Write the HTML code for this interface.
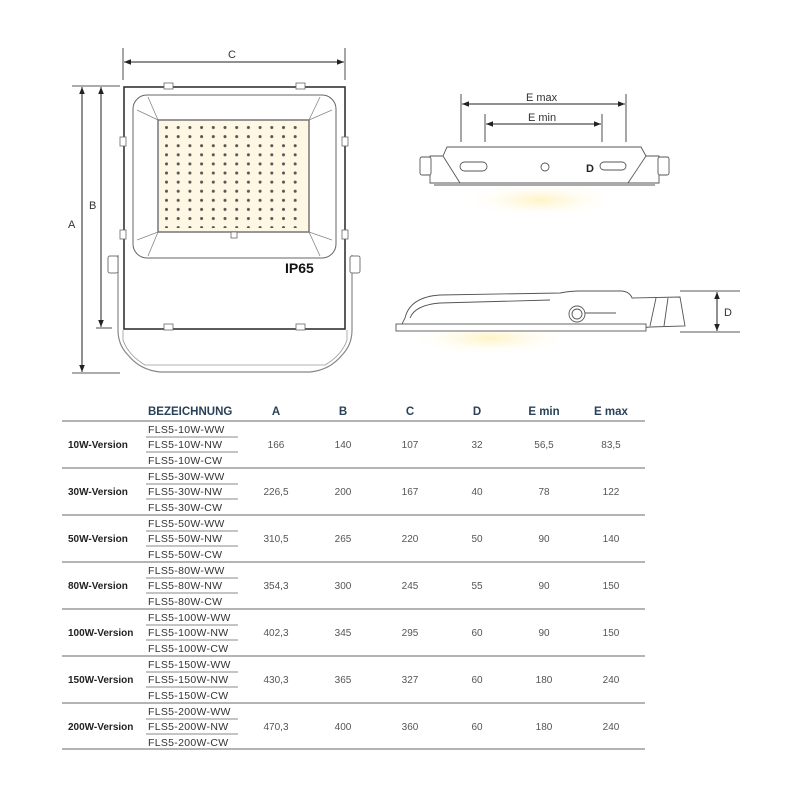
<!DOCTYPE html>
<html><head><meta charset="utf-8"><style>
html,body{margin:0;padding:0;background:#fff;}
svg{display:block;font-family:"Liberation Sans",sans-serif;}
.h{font-weight:bold;font-size:11.5px;fill:#2a4157;}
.l{font-weight:bold;font-size:10px;fill:#222;}
.n{font-size:10.5px;fill:#333;letter-spacing:0.3px}
.v{font-size:10px;fill:#555;text-anchor:middle;}
.dim{font-size:11px;fill:#333;}
</style></head><body>
<svg width="800" height="800" viewBox="0 0 800 800">
<defs>
<pattern id="leds" x="165" y="126" width="11.7" height="9.1" patternUnits="userSpaceOnUse">
<circle cx="1.5" cy="1.5" r="1.5" fill="#555"/></pattern>
<radialGradient id="glow" cx="0.5" cy="0.5" r="0.5">
<stop offset="0" stop-color="#fff3c4"/><stop offset="1" stop-color="#fff" stop-opacity="0"/></radialGradient>
<marker id="ar" viewBox="0 0 10 10" refX="10" refY="5" markerWidth="7" markerHeight="7" orient="auto-start-reverse"><path d="M0,1 L10,5 L0,9 z" fill="#222"/></marker>
</defs>

<!-- FRONT VIEW -->
<g stroke="#222" fill="none">
<line x1="123" y1="48" x2="123" y2="80" stroke-width="0.8"/>
<line x1="345" y1="48" x2="345" y2="80" stroke-width="0.8"/>
<line x1="124" y1="62" x2="344" y2="62" stroke-width="1" marker-start="url(#ar)" marker-end="url(#ar)"/>
<line x1="72" y1="86" x2="120" y2="86" stroke-width="0.8"/>
<line x1="72" y1="373" x2="120" y2="373" stroke-width="0.8"/>
<line x1="96" y1="328" x2="112" y2="328" stroke-width="0.8"/>
<line x1="82" y1="87" x2="82" y2="372" stroke-width="1" marker-start="url(#ar)" marker-end="url(#ar)"/>
<line x1="101" y1="87" x2="101" y2="327" stroke-width="1" marker-start="url(#ar)" marker-end="url(#ar)"/>
</g>
<text x="228" y="58" class="dim">C</text>
<text x="68" y="228" class="dim">A</text>
<text x="89" y="209" class="dim">B</text>
<!-- bracket -->
<path d="M118,255 L118,330 Q118,345 128,355 Q140,370 160,372 L310,372 Q330,370 342,355 Q352,345 352,330 L352,255" fill="none" stroke="#888" stroke-width="1.2"/>
<path d="M123,330 L123,340 Q128,355 145,365 L325,365 Q342,355 347,340 L347,330" fill="none" stroke="#999" stroke-width="0.8"/>
<rect x="108" y="256" width="10" height="17" rx="2" fill="#fff" stroke="#777"/>
<rect x="350" y="256" width="10" height="17" rx="2" fill="#fff" stroke="#777"/>
<rect x="124" y="87" width="221" height="242" fill="#fff" stroke="#333" stroke-width="1.6"/>
<rect x="133" y="95" width="203" height="163" rx="14" fill="#fff" stroke="#666" stroke-width="1"/>
<g stroke="#888" stroke-width="0.8"><line x1="137" y1="110" x2="158" y2="120"/><line x1="332" y1="110" x2="309" y2="120"/><line x1="137" y1="240" x2="158" y2="232"/><line x1="332" y1="240" x2="309" y2="232"/><line x1="148" y1="97" x2="158" y2="120"/><line x1="320" y1="97" x2="309" y2="120"/><line x1="148" y1="256" x2="158" y2="232"/><line x1="320" y1="256" x2="309" y2="232"/></g>
<rect x="158" y="120" width="151" height="112" fill="#fdf7e3" stroke="#777" stroke-width="1.5"/>
<rect x="165" y="126" width="140" height="102" fill="url(#leds)"/>
<g fill="#fff" stroke="#666" stroke-width="0.8">
<rect x="164" y="83" width="9" height="6"/><rect x="296" y="83" width="9" height="6"/>
<rect x="164" y="324" width="9" height="6"/><rect x="296" y="324" width="9" height="6"/>
<rect x="120" y="137" width="6" height="9"/><rect x="342" y="137" width="6" height="9"/>
<rect x="120" y="230" width="6" height="9"/><rect x="342" y="230" width="6" height="9"/>
<rect x="231" y="232" width="6" height="6"/>
</g>
<text x="285" y="273" font-weight="bold" font-size="14" fill="#111">IP65</text>

<!-- SIDE VIEW TOP -->
<ellipse cx="540" cy="200" rx="80" ry="18" fill="url(#glow)"/>
<g stroke="#222" fill="none">
<line x1="461" y1="94" x2="461" y2="142" stroke-width="0.8"/>
<line x1="626" y1="94" x2="626" y2="142" stroke-width="0.8"/>
<line x1="485" y1="114" x2="485" y2="142" stroke-width="0.8"/>
<line x1="602" y1="114" x2="602" y2="142" stroke-width="0.8"/>
<line x1="462" y1="104" x2="625" y2="104" marker-start="url(#ar)" marker-end="url(#ar)"/>
<line x1="486" y1="124" x2="601" y2="124" marker-start="url(#ar)" marker-end="url(#ar)"/>
</g>
<text x="526" y="101" class="dim">E max</text>
<text x="528" y="121" class="dim">E min</text>
<g fill="#fff" stroke="#555" stroke-width="0.9">
<path d="M447,147 L641,147 L646,156 L659,156 L659,183 L430,183 L430,156 L443,156 Z"/>
<rect x="420" y="157" width="11" height="18" rx="2"/>
<rect x="658" y="157" width="11" height="18" rx="2"/>
<line x1="434" y1="185" x2="655" y2="185"/>
<rect x="460" y="162" width="27" height="9" rx="4.5"/>
<circle cx="545" cy="167" r="4"/>
<rect x="600" y="162" width="26" height="8" rx="4"/>
<line x1="443" y1="156" x2="460" y2="183"/><line x1="646" y1="156" x2="628" y2="183"/>
</g>
<text x="586" y="172" font-size="11" font-weight="bold" fill="#222">D</text>

<!-- PROFILE VIEW -->
<ellipse cx="490" cy="338" rx="85" ry="18" fill="url(#glow)"/>
<g fill="#fff" stroke="#555" stroke-width="0.9">
<path d="M405,318 Q410,297 440,295 L560,293 Q570,291 580,291 L622,291 Q630,292 632,298 L680,297 L685,326 L650,327 L640,328 L400,328 Z"/>
<path d="M410,318 Q415,305 440,303 L550,300"/>
<rect x="396" y="324" width="250" height="7"/>
<circle cx="577" cy="314" r="8"/><circle cx="577" cy="314" r="5"/>
<line x1="585" y1="313" x2="616" y2="313"/>
<line x1="656" y1="298" x2="650" y2="326"/><line x1="668" y1="298" x2="664" y2="326"/>
</g>
<g stroke="#222" fill="none">
<line x1="680" y1="291" x2="740" y2="291" stroke-width="0.8"/>
<line x1="680" y1="332" x2="740" y2="332" stroke-width="0.8"/>
<line x1="717" y1="292" x2="717" y2="331" marker-start="url(#ar)" marker-end="url(#ar)"/>
</g>
<text x="724" y="316" class="dim">D</text>

<!-- TABLE -->
<text x="148" y="415" class="h">BEZEICHNUNG</text>
<text x="276" y="415" class="h" text-anchor="middle">A</text>
<text x="343" y="415" class="h" text-anchor="middle">B</text>
<text x="410" y="415" class="h" text-anchor="middle">C</text>
<text x="477" y="415" class="h" text-anchor="middle">D</text>
<text x="544" y="415" class="h" text-anchor="middle">E min</text>
<text x="611" y="415" class="h" text-anchor="middle">E max</text>
<g stroke="#888" stroke-width="1.2">
<line x1="62" y1="421" x2="645" y2="421"/><line x1="62" y1="468" x2="645" y2="468"/>
<line x1="62" y1="515" x2="645" y2="515"/><line x1="62" y1="562" x2="645" y2="562"/>
<line x1="62" y1="609" x2="645" y2="609"/><line x1="62" y1="656" x2="645" y2="656"/>
<line x1="62" y1="703" x2="645" y2="703"/><line x1="62" y1="749" x2="645" y2="749"/>
</g>
<g stroke="#888" stroke-width="1">
<line x1="146" y1="437" x2="238" y2="437"/><line x1="146" y1="452" x2="238" y2="452"/>
<line x1="146" y1="484" x2="238" y2="484"/><line x1="146" y1="499" x2="238" y2="499"/>
<line x1="146" y1="531" x2="238" y2="531"/><line x1="146" y1="546" x2="238" y2="546"/>
<line x1="146" y1="578" x2="238" y2="578"/><line x1="146" y1="593" x2="238" y2="593"/>
<line x1="146" y1="625" x2="238" y2="625"/><line x1="146" y1="640" x2="238" y2="640"/>
<line x1="146" y1="672" x2="238" y2="672"/><line x1="146" y1="687" x2="238" y2="687"/>
<line x1="146" y1="719" x2="238" y2="719"/><line x1="146" y1="734" x2="238" y2="734"/>
</g>
<g>
<text x="68" y="448" class="l">10W-Version</text>
<text x="148" y="433" class="n">FLS5-10W-WW</text><text x="148" y="448" class="n">FLS5-10W-NW</text><text x="148" y="464" class="n">FLS5-10W-CW</text>
<text x="276" y="448" class="v">166</text><text x="343" y="448" class="v">140</text><text x="410" y="448" class="v">107</text><text x="477" y="448" class="v">32</text><text x="544" y="448" class="v">56,5</text><text x="611" y="448" class="v">83,5</text>

<text x="68" y="495" class="l">30W-Version</text>
<text x="148" y="480" class="n">FLS5-30W-WW</text><text x="148" y="495" class="n">FLS5-30W-NW</text><text x="148" y="511" class="n">FLS5-30W-CW</text>
<text x="276" y="495" class="v">226,5</text><text x="343" y="495" class="v">200</text><text x="410" y="495" class="v">167</text><text x="477" y="495" class="v">40</text><text x="544" y="495" class="v">78</text><text x="611" y="495" class="v">122</text>

<text x="68" y="542" class="l">50W-Version</text>
<text x="148" y="527" class="n">FLS5-50W-WW</text><text x="148" y="542" class="n">FLS5-50W-NW</text><text x="148" y="558" class="n">FLS5-50W-CW</text>
<text x="276" y="542" class="v">310,5</text><text x="343" y="542" class="v">265</text><text x="410" y="542" class="v">220</text><text x="477" y="542" class="v">50</text><text x="544" y="542" class="v">90</text><text x="611" y="542" class="v">140</text>

<text x="68" y="589" class="l">80W-Version</text>
<text x="148" y="574" class="n">FLS5-80W-WW</text><text x="148" y="589" class="n">FLS5-80W-NW</text><text x="148" y="605" class="n">FLS5-80W-CW</text>
<text x="276" y="589" class="v">354,3</text><text x="343" y="589" class="v">300</text><text x="410" y="589" class="v">245</text><text x="477" y="589" class="v">55</text><text x="544" y="589" class="v">90</text><text x="611" y="589" class="v">150</text>

<text x="68" y="636" class="l">100W-Version</text>
<text x="148" y="621" class="n">FLS5-100W-WW</text><text x="148" y="636" class="n">FLS5-100W-NW</text><text x="148" y="652" class="n">FLS5-100W-CW</text>
<text x="276" y="636" class="v">402,3</text><text x="343" y="636" class="v">345</text><text x="410" y="636" class="v">295</text><text x="477" y="636" class="v">60</text><text x="544" y="636" class="v">90</text><text x="611" y="636" class="v">150</text>

<text x="68" y="683" class="l">150W-Version</text>
<text x="148" y="668" class="n">FLS5-150W-WW</text><text x="148" y="683" class="n">FLS5-150W-NW</text><text x="148" y="699" class="n">FLS5-150W-CW</text>
<text x="276" y="683" class="v">430,3</text><text x="343" y="683" class="v">365</text><text x="410" y="683" class="v">327</text><text x="477" y="683" class="v">60</text><text x="544" y="683" class="v">180</text><text x="611" y="683" class="v">240</text>

<text x="68" y="730" class="l">200W-Version</text>
<text x="148" y="715" class="n">FLS5-200W-WW</text><text x="148" y="730" class="n">FLS5-200W-NW</text><text x="148" y="746" class="n">FLS5-200W-CW</text>
<text x="276" y="730" class="v">470,3</text><text x="343" y="730" class="v">400</text><text x="410" y="730" class="v">360</text><text x="477" y="730" class="v">60</text><text x="544" y="730" class="v">180</text><text x="611" y="730" class="v">240</text>
</g>
</svg>
</body></html>
